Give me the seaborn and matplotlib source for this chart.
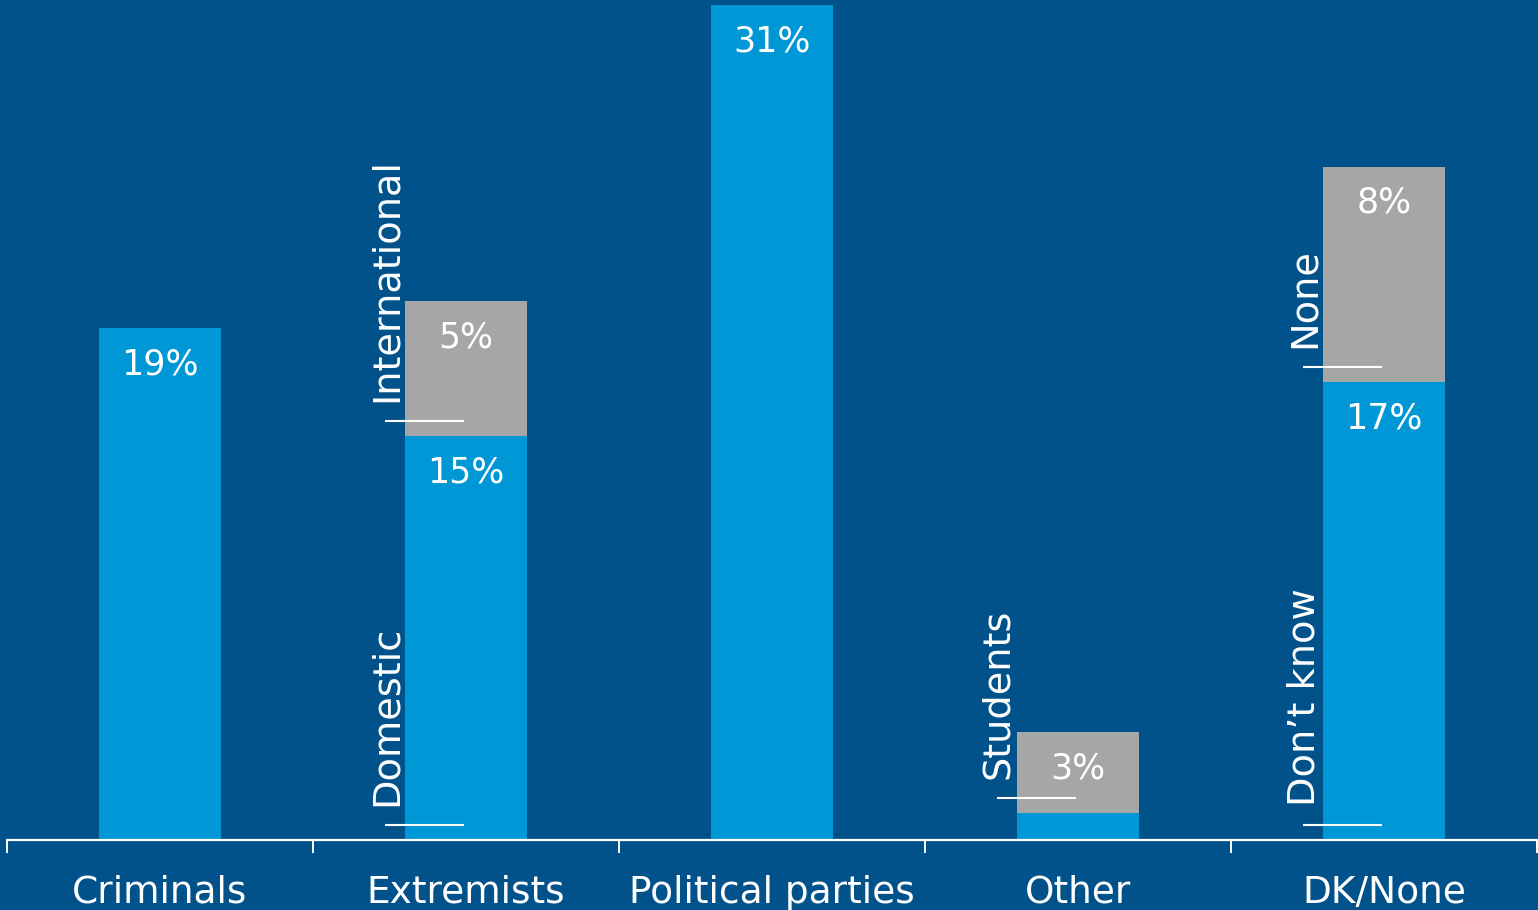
import matplotlib
matplotlib.use("Agg")
import matplotlib.pyplot as plt
import seaborn as sns
import pandas as pd
from matplotlib.ticker import FixedLocator

categories = ["Criminals", "Extremists", "Political parties", "Other", "DK/None"]
primary = [19, 15, 31, 1, 17]
secondary = [0, 5, 0, 3, 8]
primary_labels = ["19%", "15%", "31%", "", "17%"]
secondary_labels = ["", "5%", "", "3%", "8%"]
primary_names = ["", "Domestic", "", "", "Don\u2019t know"]
secondary_names = ["", "International", "", "Students", "None"]

BG = "#01528a"
BLUE = "#0097d7"
GREY = "#a6a6a6"

sns.set_theme(style="white")
plt.rcParams["font.family"] = ["DejaVu Sans"]

df = pd.DataFrame({
    "cat": categories,
    "total": [p + s for p, s in zip(primary, secondary)],
    "primary": primary,
})

fig = plt.figure(figsize=(15.38, 9.10), dpi=100, facecolor=BG)
ax = fig.add_axes([7 / 1538, 70 / 910, 1530 / 1538, 835 / 910])
ax.set_facecolor(BG)

sns.barplot(data=df, x="cat", y="total", color=GREY, saturation=1, width=0.4,
            ax=ax, edgecolor="none", linewidth=0)
sns.barplot(data=df, x="cat", y="primary", color=BLUE, saturation=1, width=0.4,
            ax=ax, edgecolor="none", linewidth=0)

ax.set_xlim(-0.5, len(categories) - 0.5)
ax.set_ylim(0, 31)
ax.set_xlabel("")
ax.set_ylabel("")
ax.set_yticks([])

for s in ["top", "left", "right"]:
    ax.spines[s].set_visible(False)
ax.spines["bottom"].set_color("white")
ax.spines["bottom"].set_linewidth(1.6)

ax.xaxis.set_minor_locator(FixedLocator([i - 0.5 for i in range(len(categories) + 1)]))
ax.tick_params(axis="x", which="major", length=0, pad=25, labelsize=27, labelcolor="white")
ax.tick_params(axis="x", which="minor", length=9, width=1.4, color="white", direction="out", bottom=True)

lab_off = 1.34
fs = 25
name_fs = 27.5
for i in range(len(categories)):
    p = primary[i]
    s = secondary[i]
    if primary_labels[i]:
        ax.text(i, p - lab_off, primary_labels[i], ha="center", va="center",
                color="white", fontsize=fs)
    if secondary_labels[i]:
        ax.text(i, p + s - lab_off, secondary_labels[i], ha="center", va="center",
                color="white", fontsize=fs)
    for name, base in ((primary_names[i], 0), (secondary_names[i], p)):
        if name:
            ly = base + 0.55
            ax.plot([i - 0.265, i - 0.005], [ly, ly], color="white", lw=1.5,
                    solid_capstyle="butt")
            ax.text(i - 0.26, ly + 0.72, name, rotation=90, ha="center", va="bottom",
                    color="white", fontsize=name_fs)

fig.savefig("out.png", dpi=100, facecolor=BG)
